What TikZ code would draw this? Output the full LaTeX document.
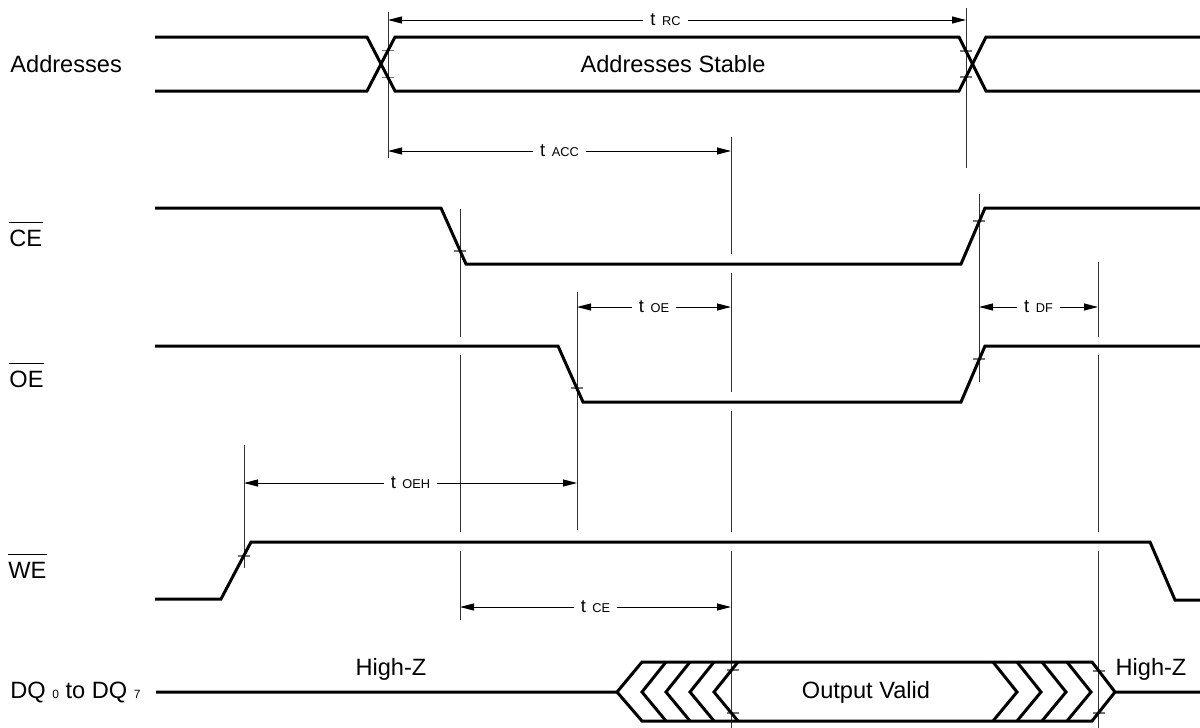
\documentclass[tikz,border=0pt]{standalone}
\usepackage{fontspec}
\setmainfont{Liberation Sans}
\usetikzlibrary{arrows.meta}
\newcommand{\tlab}[1]{t\hspace{3.3pt}{\fontsize{6.4pt}{7pt}\selectfont #1}}
\begin{document}
\begin{tikzpicture}[x=0.5pt,y=-0.5pt,
  sig/.style={line width=1.5pt, line join=miter, line cap=butt},
  guide/.style={line width=0.5pt, black!80},
  tickm/.style={line width=0.6pt, black!55},
  dim/.style={line width=0.5pt, {Triangle[length=7pt,width=3.5pt]}-{Triangle[length=7pt,width=3.5pt]}},
  lbl/.style={fill=white, inner xsep=3.5pt, inner ysep=1pt, font=\fontsize{9.2pt}{10pt}\selectfont},
  signame/.style={anchor=west, inner sep=0pt, font=\fontsize{11.8pt}{14pt}\selectfont},
  txt/.style={inner sep=0pt, font=\fontsize{11.8pt}{14pt}\selectfont},
  ovl/.style={line width=0.7pt}
]
\useasboundingbox (0,0) rectangle (1200,728);

% ---------- guide (vertical) lines ----------
\draw[guide] (388,12) -- (388,158);
\draw[guide] (966,8) -- (966,168);
\draw[guide] (731,137) -- (731,254) (731,273) -- (731,392) (731,411) -- (731,532) (731,551) -- (731,728);
\draw[guide] (460,209) -- (460,337) (460,355) -- (460,532) (460,551) -- (460,620);
\draw[guide] (577,292) -- (577,530);
\draw[guide] (979,194) -- (979,382);
\draw[guide] (1098,262) -- (1098,337) (1098,355) -- (1098,532) (1098,551) -- (1098,728);
\draw[guide] (244,445) -- (244,568);

% ---------- ticks ----------
\foreach \x/\y in {388/50.5, 388/77.5, 966/51, 966/77, 460/251, 979/221, 577/388, 979/359, 244/556, 733/670, 733/713, 1099/671, 1099/713}
  \draw[tickm] (\x-6,\y) -- (\x+6,\y);

% ---------- signals ----------
% Addresses
\draw[sig] (155,37) -- (367,37) -- (395,91) -- (959,91) -- (986,37) -- (1200,37);
\draw[sig] (155,91) -- (367,91) -- (395,37) -- (959,37) -- (986,91) -- (1200,91);
% CE
\draw[sig] (155,208) -- (441,208) -- (466,264) -- (961,264) -- (985,208) -- (1200,208);
% OE
\draw[sig] (155,346) -- (558,346) -- (583,402) -- (961,402) -- (985,346) -- (1200,346);
% WE
\draw[sig] (155,599) -- (221,599) -- (251,542) -- (1150,542) -- (1175,600) -- (1200,600);
% DQ
\draw[sig] (156,692) -- (617,692) -- (642,662) -- (1092,662) -- (1115,692) -- (1200,692);
\draw[sig] (617,692) -- (642,721) -- (1092,721) -- (1115,692);
\foreach \t in {642,666,690,714}
  \draw[sig] (\t+24,662) -- (\t,692) -- (\t+24,721);
\foreach \t in {993,1017,1042,1067}
  \draw[sig] (\t,662) -- (\t+24,692) -- (\t,721);

% ---------- timing dimensions ----------
\coordinate (rcL) at (388,20);  \coordinate (rcR) at (966,20);
\coordinate (accL) at (388,151); \coordinate (accR) at (731,151);
\coordinate (oeL) at (577,307); \coordinate (oeR) at (731,307);
\coordinate (dfL) at (979,307); \coordinate (dfR) at (1098,307);
\coordinate (oehL) at (244,483); \coordinate (oehR) at (577,483);
\coordinate (ceL) at (460,607); \coordinate (ceR) at (731,607);

\draw[dim] (rcL) -- node[lbl, pos=0.48] (trc) {\tlab{RC}} (rcR);
\draw[dim] (accL) -- node[lbl] (tacc) {\tlab{ACC}} (accR);
\draw[dim] (oeL) -- node[lbl] (toe) {\tlab{OE}} (oeR);
\draw[dim] (dfL) -- node[lbl] (tdf) {\tlab{DF}} (dfR);
\draw[dim] (oehL) -- node[lbl] (toeh) {\tlab{OEH}} (oehR);
\draw[dim] (ceL) -- node[lbl] (tce) {\tlab{CE}} (ceR);

% ---------- signal names ----------
\node[signame] (naddr) at (10,64) {Addresses};
\node[signame] (nce) at (9,238) {CE};
\draw[ovl] ([yshift=3.5pt]nce.north west) -- ([yshift=3.5pt]nce.north east);
\node[signame] (noe) at (9,379) {OE};
\draw[ovl] ([yshift=3.5pt]noe.north west) -- ([yshift=3.5pt]noe.north east);
\node[signame] (nwe) at (8,570) {WE};
\draw[ovl] ([yshift=3.5pt]nwe.north west) -- ([yshift=3.5pt]nwe.north east);
\node[signame] (ndq) at (10,692) {DQ {\fontsize{6pt}{7pt}\selectfont 0} to DQ {\fontsize{6pt}{7pt}\selectfont 7}};

% ---------- in-diagram texts ----------
\node[txt] (stable) at (673,64) {Addresses Stable};
\node[txt] (hz1) at (391,669) {High-Z};
\node[txt] (hz2) at (1151,669) {High-Z};
\node[txt] (valid) at (866,692) {Output Valid};
\end{tikzpicture}
\end{document}
